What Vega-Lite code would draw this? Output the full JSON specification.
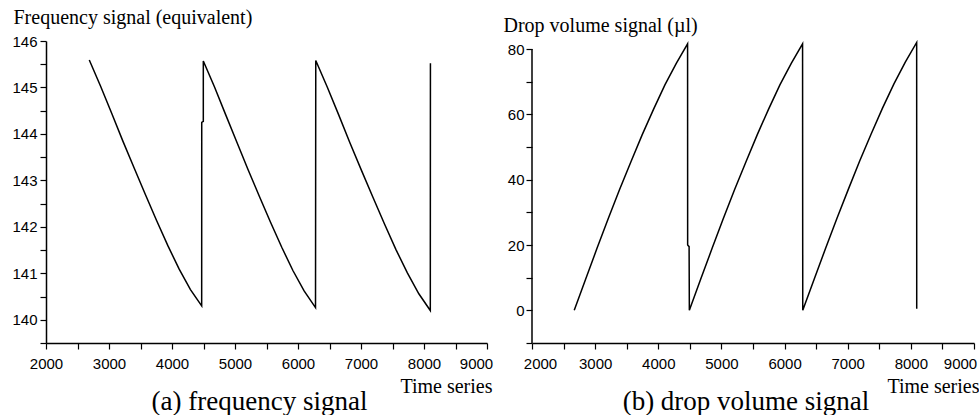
{
  "$schema": "https://vega.github.io/schema/vega-lite/v6.json",
  "background": "white",
  "padding": {"left": 11, "top": 7, "right": 0, "bottom": 0},
  "spacing": 45,
  "bounds": "flush",
  "config": {
    "view": {"stroke": null},
    "axis": {
      "grid": false,
      "domainColor": "#000",
      "domainWidth": 1.5,
      "tickColor": "#000",
      "tickWidth": 1.2,
      "tickSize": 6,
      "labelFont": "Liberation Sans",
      "labelFontSize": 15,
      "labelColor": "#000",
      "titleFont": "Liberation Serif",
      "titleFontSize": 20,
      "titleFontWeight": "normal",
      "titleColor": "#000",
      "labelFlush": false,
      "labelOverlap": false
    }
  },
  "hconcat": [
    {
      "width": 441,
      "height": 302,
      "title": {"text": "(a) frequency signal", "orient": "bottom", "anchor": "middle", "frame": "group", "font": "Liberation Serif", "fontSize": 27, "fontWeight": "normal", "color": "#000", "offset": -7, "dx": -7},
      "data": {"values": [
        {"i": 1, "t": 2687, "f": 145.59},
        {"i": 2, "t": 2865, "f": 145.03},
        {"i": 3, "t": 3044, "f": 144.44},
        {"i": 4, "t": 3222, "f": 143.84},
        {"i": 5, "t": 3401, "f": 143.26},
        {"i": 6, "t": 3579, "f": 142.69},
        {"i": 7, "t": 3757, "f": 142.13},
        {"i": 8, "t": 3936, "f": 141.59},
        {"i": 9, "t": 4114, "f": 141.09},
        {"i": 10, "t": 4293, "f": 140.65},
        {"i": 11, "t": 4471, "f": 140.30},
        {"i": 12, "t": 4472, "f": 144.25},
        {"i": 13, "t": 4497, "f": 144.27},
        {"i": 14, "t": 4497, "f": 145.57},
        {"i": 15, "t": 4675, "f": 145.01},
        {"i": 16, "t": 4853, "f": 144.41},
        {"i": 17, "t": 5030, "f": 143.82},
        {"i": 18, "t": 5208, "f": 143.23},
        {"i": 19, "t": 5386, "f": 142.66},
        {"i": 20, "t": 5564, "f": 142.10},
        {"i": 21, "t": 5742, "f": 141.56},
        {"i": 22, "t": 5919, "f": 141.06},
        {"i": 23, "t": 6097, "f": 140.62},
        {"i": 24, "t": 6278, "f": 140.26},
        {"i": 25, "t": 6282, "f": 145.58},
        {"i": 26, "t": 6464, "f": 145.01},
        {"i": 27, "t": 6646, "f": 144.41},
        {"i": 28, "t": 6827, "f": 143.80},
        {"i": 29, "t": 7009, "f": 143.21},
        {"i": 30, "t": 7191, "f": 142.63},
        {"i": 31, "t": 7373, "f": 142.06},
        {"i": 32, "t": 7555, "f": 141.51},
        {"i": 33, "t": 7736, "f": 141.01},
        {"i": 34, "t": 7918, "f": 140.56},
        {"i": 35, "t": 8100, "f": 140.20},
        {"i": 36, "t": 8102, "f": 145.52}
      ]},
      "mark": {"type": "line", "color": "#000", "strokeWidth": 1.5},
      "encoding": {
        "x": {
          "field": "t", "type": "quantitative",
          "scale": {"domain": [2000, 9000], "nice": false, "zero": false},
          "axis": {
            "values": [2000, 2500, 3000, 3500, 4000, 4500, 5000, 5500, 6000, 6500, 7000, 7500, 8000, 8500, 9000],
            "labelExpr": "datum.value % 1000 === 0 ? format(datum.value, 'd') : ''",
            "labelPadding": 7,
            "labelOffset": {"condition": {"test": "datum.value === 9000", "value": -11}, "value": 0},
            "title": "Time series",
            "titleX": 446, "titleY": 49, "titleAlign": "right", "titleBaseline": "alphabetic"
          }
        },
        "y": {
          "field": "f", "type": "quantitative",
          "scale": {"domain": [139.5, 146], "nice": false, "zero": false},
          "axis": {
            "values": [139.5, 140, 140.5, 141, 141.5, 142, 142.5, 143, 143.5, 144, 144.5, 145, 145.5, 146],
            "labelExpr": "datum.value % 1 === 0 ? format(datum.value, 'd') : ''",
            "labelPadding": 3,
            "title": "Frequency signal (equivalent)",
            "titleAngle": 0, "titleX": -33, "titleY": -18, "titleAlign": "left", "titleBaseline": "alphabetic"
          }
        },
        "order": {"field": "i", "type": "quantitative"}
      }
    },
    {
      "width": 442,
      "height": 302,
      "title": {"text": "(b) drop volume signal", "orient": "bottom", "anchor": "middle", "frame": "group", "font": "Liberation Serif", "fontSize": 27, "fontWeight": "normal", "color": "#000", "offset": -7, "dx": -7},
      "layer": [
        {
          "data": {"values": [
            {"i": 1, "t": 2669, "v": 0},
            {"i": 2, "t": 2849, "v": 9.5},
            {"i": 3, "t": 3028, "v": 18.9},
            {"i": 4, "t": 3208, "v": 28.1},
            {"i": 5, "t": 3387, "v": 37.0},
            {"i": 6, "t": 3567, "v": 45.5},
            {"i": 7, "t": 3746, "v": 53.8},
            {"i": 8, "t": 3926, "v": 61.6},
            {"i": 9, "t": 4105, "v": 69.0},
            {"i": 10, "t": 4285, "v": 75.6},
            {"i": 11, "t": 4464, "v": 81.6},
            {"i": 12, "t": 4465, "v": 20.0},
            {"i": 13, "t": 4488, "v": 19.5},
            {"i": 14, "t": 4492, "v": 0},
            {"i": 15, "t": 4671, "v": 9.5},
            {"i": 16, "t": 4851, "v": 18.9},
            {"i": 17, "t": 5030, "v": 28.1},
            {"i": 18, "t": 5209, "v": 37.0},
            {"i": 19, "t": 5389, "v": 45.5},
            {"i": 20, "t": 5568, "v": 53.8},
            {"i": 21, "t": 5747, "v": 61.6},
            {"i": 22, "t": 5926, "v": 69.0},
            {"i": 23, "t": 6106, "v": 75.6},
            {"i": 24, "t": 6285, "v": 81.6},
            {"i": 25, "t": 6288, "v": 0},
            {"i": 26, "t": 6470, "v": 9.6},
            {"i": 27, "t": 6650, "v": 19.0},
            {"i": 28, "t": 6830, "v": 28.2},
            {"i": 29, "t": 7011, "v": 37.1},
            {"i": 30, "t": 7191, "v": 45.8},
            {"i": 31, "t": 7371, "v": 54.0},
            {"i": 32, "t": 7551, "v": 61.9},
            {"i": 33, "t": 7732, "v": 69.3},
            {"i": 34, "t": 7912, "v": 76.0},
            {"i": 35, "t": 8092, "v": 82.0},
            {"i": 36, "t": 8093, "v": 0.5}
          ]},
          "mark": {"type": "line", "color": "#000", "strokeWidth": 1.5},
          "encoding": {
            "x": {
              "field": "t", "type": "quantitative",
              "scale": {"domain": [2000, 9000], "nice": false, "zero": false},
              "axis": {
                "values": [2000, 2500, 3000, 3500, 4000, 4500, 5000, 5500, 6000, 6500, 7000, 7500, 8000, 8500, 9000],
                "labelExpr": "datum.value % 1000 === 0 ? format(datum.value, 'd') : ''",
                "labelPadding": 7,
                "labelOffset": {"condition": [{"test": "datum.value === 9000", "value": -14}, {"test": "datum.value === 2000", "value": 8}], "value": 0},
                "title": "Time series",
                "titleX": 447, "titleY": 49, "titleAlign": "right", "titleBaseline": "alphabetic"
              }
            },
            "y": {
              "field": "v", "type": "quantitative",
              "scale": {"domain": [-10, 82.45], "nice": false, "zero": false},
              "axis": {
                "values": [-10, 0, 10, 20, 30, 40, 50, 60, 70, 80],
                "labelExpr": "datum.value >= 0 && datum.value % 20 === 0 ? format(datum.value, 'd') : ''",
                "labelPadding": 2,
                "domain": false,
                "title": "Drop volume signal (µl)",
                "titleAngle": 0, "titleX": -29, "titleY": -10, "titleAlign": "left", "titleBaseline": "alphabetic"
              }
            },
            "order": {"field": "i", "type": "quantitative"}
          }
        },
        {
          "data": {"values": [{"k": 1}]},
          "mark": {"type": "rule", "color": "#000", "strokeWidth": 1.5},
          "encoding": {
            "x": {
              "datum": 2000, "type": "quantitative",
              "axis": {
                "values": [2000, 2500, 3000, 3500, 4000, 4500, 5000, 5500, 6000, 6500, 7000, 7500, 8000, 8500, 9000],
                "labelExpr": "datum.value % 1000 === 0 ? format(datum.value, 'd') : ''",
                "labelPadding": 7,
                "labelOffset": {"condition": [{"test": "datum.value === 9000", "value": -14}, {"test": "datum.value === 2000", "value": 8}], "value": 0},
                "title": "Time series",
                "titleX": 447, "titleY": 49, "titleAlign": "right", "titleBaseline": "alphabetic"
              }
            },
            "y": {
              "datum": -10, "type": "quantitative",
              "axis": {
                "values": [-10, 0, 10, 20, 30, 40, 50, 60, 70, 80],
                "labelExpr": "datum.value >= 0 && datum.value % 20 === 0 ? format(datum.value, 'd') : ''",
                "labelPadding": 2,
                "domain": false,
                "title": "Drop volume signal (µl)",
                "titleAngle": 0, "titleX": -29, "titleY": -10, "titleAlign": "left", "titleBaseline": "alphabetic"
              }
            },
            "y2": {"datum": 80}
          }
        }
      ]
    }
  ]
}
